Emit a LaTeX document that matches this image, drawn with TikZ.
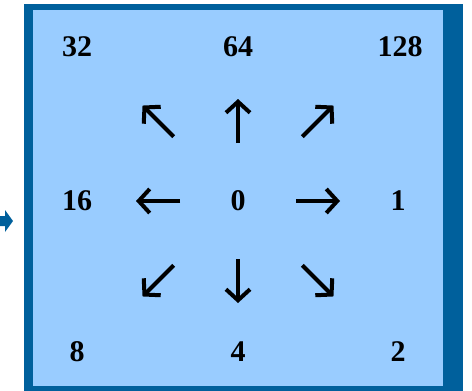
\documentclass[tikz,border=0pt]{standalone}
\usepackage{fontspec}
\setmainfont{Liberation Serif}
\usetikzlibrary{arrows.meta}
\definecolor{frameblue}{RGB}{0,96,156}
\definecolor{cellblue}{RGB}{153,204,255}
\begin{document}
\begin{tikzpicture}[x=1pt, y=-1pt, >={Straight Barb[length=11pt,width=24pt]},
    num/.style={font=\fontsize{30}{36}\selectfont\bfseries}]
    \useasboundingbox (0,0) rectangle (472,391);

    % Frame
    \fill[frameblue] (24,4) rectangle (463,391);
    \fill[cellblue] (33,10) rectangle (443,386);

    % Pointer on the left
    \fill[frameblue] (0,216) -- (5,216) -- (5,210) -- (13,221) -- (5,232) -- (5,226) -- (0,226) -- cycle;

    % Weights
    \node[num] (w32) at (77,47) {32};
    \node[num] (w64) at (238,47) {64};
    \node[num] (w128) at (400,47) {128};
    \node[num] (w16) at (77,201) {16};
    \node[num] (zero) at (238,201) {0};
    \node[num] (w1) at (398,201) {1};
    \node[num] (w8) at (77,352) {8};
    \node[num] (w4) at (238,352) {4};
    \node[num] (w2) at (398,352) {2};

    % Directions
    \foreach \a/\r in {0/58, 45/91, 90/58, 135/91, 180/58, 225/91, 270/58, 315/91}
        \draw[->, line width=4pt] (zero.center) ++(\a:\r) -- ++(\a:44);
\end{tikzpicture}
\end{document}
